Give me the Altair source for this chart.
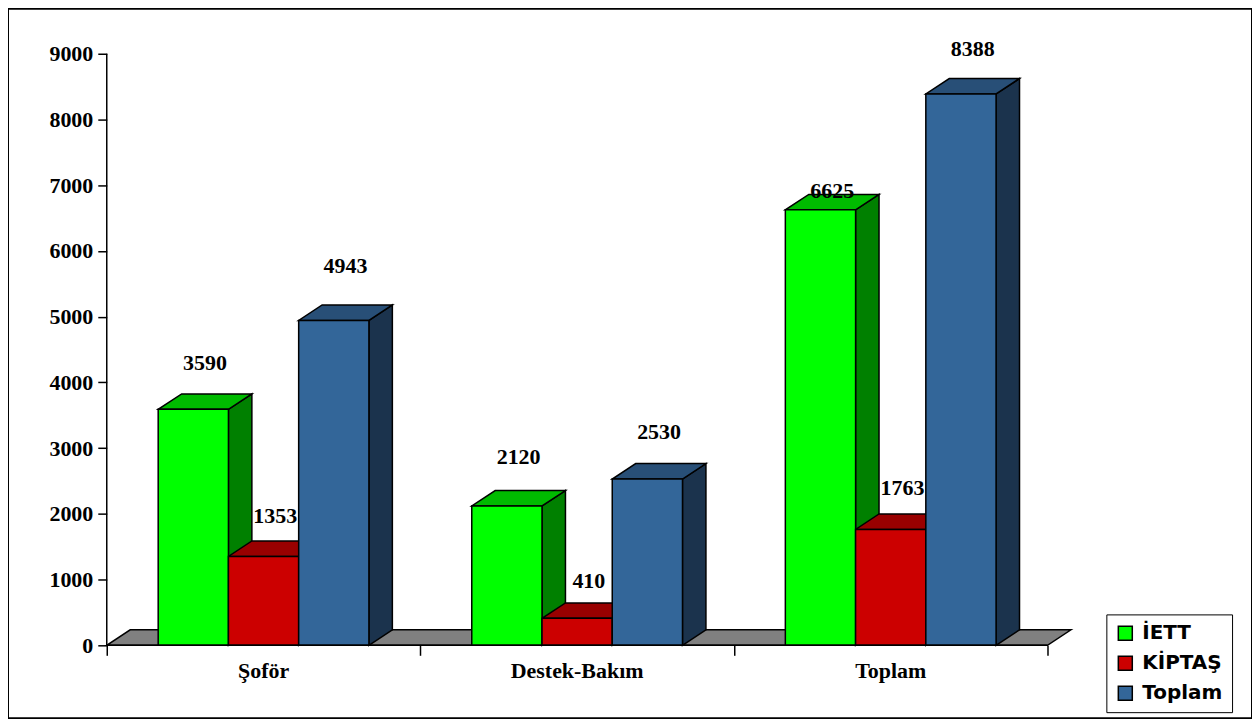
import altair as alt
import pandas as pd

# ---------------- data ----------------
categories = ["Şoför", "Destek-Bakım", "Toplam"]
series = ["İETT", "KİPTAŞ", "Toplam"]
iett = [3590, 2120, 6625]
kiptas = [1353, 410, 1763]
toplam = [4943, 2530, 8388]
y_ticks = [0, 1000, 2000, 3000, 4000, 5000, 6000, 7000, 8000, 9000]
x_ticks = [0, 1, 2, 3]

# ---------------- style ----------------
front_colors = ["#00ff00", "#cc0000", "#336699"]
top_colors = ["#00bb00", "#990000", "#284f77"]
side_colors = ["#008000", "#800000", "#1b334d"]
floor_color = "#808080"
# label lift above the bar's front top, in px (per series, per category)
label_lift_px = [[39, 42, 12], [33, 30, 35], [48, 40, 38]]

PLOT_W, PLOT_H = 1247, 711
PX_X = 943 / 3.0          # px per category unit
PX_Y = 593 / 9000.0       # px per value unit
X_MIN = -99 / PX_X
X_MAX = X_MIN + PLOT_W / PX_X
Y_MAX = 9000 + 45 / PX_Y
Y_MIN = Y_MAX - PLOT_H / PX_Y

GAP = 0.164               # group padding (category units)
BW = 0.224                # bar width
DX = 23.5 / PX_X          # depth, horizontal
DY = 15.5 / PX_Y          # depth, vertical

values = [iett, kiptas, toplam]

fronts, tops, sides, labels = [], [], [], []
for s, name in enumerate(series):
    for c, cat in enumerate(categories):
        v = values[s][c]
        x0 = c + GAP + s * BW
        x1 = x0 + BW
        sid = f"{s}-{c}"
        fronts.append(dict(series=name, x=x0, x2=x1, y=0, y2=v))
        for xx, ya, yb in [(x0, v, v), (x0 + DX, v, v + DY), (x1, v, v + DY), (x1 + DX, v + DY, v + DY)]:
            tops.append(dict(id=sid, x=xx, y=ya, y2=yb, fill=top_colors[s]))
        for xx, ya, yb in [(x1, 0, v), (x1 + DX, DY, v + DY)]:
            sides.append(dict(id=sid, x=xx, y=ya, y2=yb, fill=side_colors[s]))
        labels.append(dict(x=x0 + BW / 2 + DX / 2, y=v + label_lift_px[s][c] / PX_Y, text=str(v)))

n = len(categories)
floor = pd.DataFrame([
    dict(x=0, y=0, y2=0), dict(x=DX, y=0, y2=DY),
    dict(x=n, y=0, y2=DY), dict(x=n + DX, y=DY, y2=DY)])
fronts = pd.DataFrame(fronts)
tops = pd.DataFrame(tops)
sides = pd.DataFrame(sides)
labels = pd.DataFrame(labels)
cats = pd.DataFrame(dict(x=[i + 0.5 for i in range(n)], y=[-33 / PX_Y] * n, text=categories))
xline = pd.DataFrame(dict(x=[0], x2=[n], y=[0]))
yline = pd.DataFrame(dict(x=[0], y=[0], y2=[y_ticks[-1]]))

xs = alt.Scale(domain=[X_MIN, X_MAX], nice=False, zero=False)
ys = alt.Scale(domain=[Y_MIN, Y_MAX], nice=False, zero=False)
x_axis = alt.Axis(values=x_ticks, labels=False, domain=False, ticks=True, tickSize=10,
                  tickColor="black", tickWidth=1.5, grid=False, title=None,
                  offset=-round((0 - Y_MIN) * PX_Y))
y_axis = alt.Axis(values=y_ticks, domain=False, ticks=True, tickSize=9, tickColor="black",
                  tickWidth=1.5, grid=False, title=None, labelFont="Liberation Serif",
                  labelFontWeight="bold", labelFontSize=22, labelColor="black",
                  labelPadding=5, format="d", offset=-round((0 - X_MIN) * PX_X))


def X(f="x"):
    return alt.X(f"{f}:Q", scale=xs, axis=x_axis)


def Y(f="y"):
    return alt.Y(f"{f}:Q", scale=ys, axis=y_axis, stack=None)


stroke = dict(stroke="black", strokeWidth=1.5)

floor_layer = alt.Chart(floor).mark_area(orient="vertical", color=floor_color, **stroke).encode(
    x=X(), y=Y(), y2="y2:Q")
side_layer = alt.Chart(sides).mark_area(orient="vertical", **stroke).encode(
    x=X(), y=Y(), y2="y2:Q", detail="id:N", fill=alt.Fill("fill:N", scale=None))
top_layer = alt.Chart(tops).mark_area(orient="vertical", **stroke).encode(
    x=X(), y=Y(), y2="y2:Q", detail="id:N", fill=alt.Fill("fill:N", scale=None))
front_layer = alt.Chart(fronts).mark_rect(**stroke).encode(
    x=X(), x2="x2:Q", y=Y(), y2="y2:Q",
    color=alt.Color("series:N", scale=alt.Scale(domain=series, range=front_colors),
                    legend=alt.Legend(title=None, orient="none", legendX=1101, legendY=607,
                                      symbolType="square", symbolSize=196,
                                      symbolStrokeColor="black", symbolStrokeWidth=1.5,
                                      labelFont="DejaVu Sans", labelFontWeight="bold",
                                      labelFontSize=20, labelColor="black", labelOffset=7,
                                      rowPadding=10, padding=9, strokeColor="black",
                                      fillColor="white")))
xline_layer = alt.Chart(xline).mark_rule(color="black", strokeWidth=1.5).encode(
    x=X(), x2="x2:Q", y=Y())
yline_layer = alt.Chart(yline).mark_rule(color="black", strokeWidth=1.5).encode(
    x=X(), y=Y(), y2="y2:Q")
label_layer = alt.Chart(labels).mark_text(font="Liberation Serif", fontWeight="bold",
                                          fontSize=22, color="black", baseline="alphabetic",
                                          align="center").encode(x=X(), y=Y(), text="text:N")
cat_layer = alt.Chart(cats).mark_text(font="Liberation Serif", fontWeight="bold",
                                      fontSize=22, color="black", baseline="alphabetic",
                                      align="center").encode(x=X(), y=Y(), text="text:N")

chart = alt.layer(floor_layer, side_layer, top_layer, front_layer, xline_layer, yline_layer,
                  label_layer, cat_layer).properties(
    width=PLOT_W, height=PLOT_H, padding=0,
    autosize=alt.AutoSizeParams(type="none")
).configure_view(stroke="black", strokeWidth=2)

chart.save("out.html", embed_options={"renderer": "svg", "actions": False})
